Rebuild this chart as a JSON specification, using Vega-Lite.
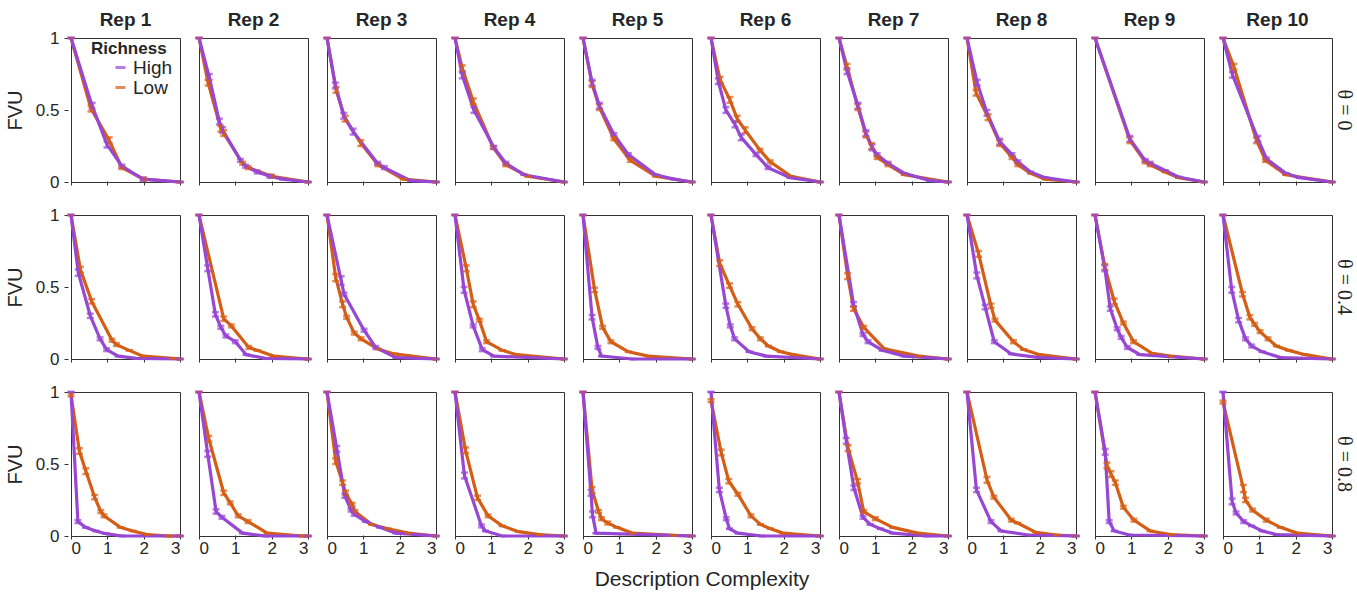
{
"$schema":"https://vega.github.io/schema/vega-lite/v6.json",
"padding":{"left":5,"top":11,"right":0,"bottom":0},
"data":{"values":[
{"t":"θ = 0","r":1,"s":"Low","x":0,"y":1,"e":0},{"t":"θ = 0","r":1,"s":"Low","x":0.55,"y":0.51,"e":0.02},{"t":"θ = 0","r":1,"s":"Low","x":1.05,"y":0.29,"e":0.02},{"t":"θ = 0","r":1,"s":"Low","x":1.4,"y":0.1,"e":0.01},{"t":"θ = 0","r":1,"s":"Low","x":2,"y":0.02,"e":0.01},{"t":"θ = 0","r":1,"s":"Low","x":3,"y":0,"e":0},
{"t":"θ = 0","r":1,"s":"High","x":0,"y":1,"e":0},{"t":"θ = 0","r":1,"s":"High","x":0.58,"y":0.53,"e":0.02},{"t":"θ = 0","r":1,"s":"High","x":0.99,"y":0.26,"e":0.02},{"t":"θ = 0","r":1,"s":"High","x":1.4,"y":0.11,"e":0.01},{"t":"θ = 0","r":1,"s":"High","x":1.98,"y":0.02,"e":0.01},{"t":"θ = 0","r":1,"s":"High","x":2.5,"y":0.01,"e":0},{"t":"θ = 0","r":1,"s":"High","x":3,"y":0,"e":0},
{"t":"θ = 0","r":2,"s":"Low","x":0,"y":1,"e":0},{"t":"θ = 0","r":2,"s":"Low","x":0.25,"y":0.69,"e":0.02},{"t":"θ = 0","r":2,"s":"Low","x":0.6,"y":0.37,"e":0.02},{"t":"θ = 0","r":2,"s":"Low","x":0.68,"y":0.34,"e":0.02},{"t":"θ = 0","r":2,"s":"Low","x":1.2,"y":0.13,"e":0.01},{"t":"θ = 0","r":2,"s":"Low","x":1.35,"y":0.1,"e":0.01},{"t":"θ = 0","r":2,"s":"Low","x":2,"y":0.04,"e":0.01},{"t":"θ = 0","r":2,"s":"Low","x":3,"y":0,"e":0},
{"t":"θ = 0","r":2,"s":"High","x":0,"y":1,"e":0},{"t":"θ = 0","r":2,"s":"High","x":0.28,"y":0.73,"e":0.02},{"t":"θ = 0","r":2,"s":"High","x":0.56,"y":0.42,"e":0.02},{"t":"θ = 0","r":2,"s":"High","x":0.65,"y":0.36,"e":0.02},{"t":"θ = 0","r":2,"s":"High","x":1.14,"y":0.15,"e":0.01},{"t":"θ = 0","r":2,"s":"High","x":1.28,"y":0.11,"e":0.01},{"t":"θ = 0","r":2,"s":"High","x":1.6,"y":0.07,"e":0.01},{"t":"θ = 0","r":2,"s":"High","x":1.95,"y":0.04,"e":0.01},{"t":"θ = 0","r":2,"s":"High","x":2.3,"y":0.02,"e":0},{"t":"θ = 0","r":2,"s":"High","x":3,"y":0,"e":0},
{"t":"θ = 0","r":3,"s":"Low","x":0,"y":1,"e":0},{"t":"θ = 0","r":3,"s":"Low","x":0.25,"y":0.64,"e":0.02},{"t":"θ = 0","r":3,"s":"Low","x":0.5,"y":0.44,"e":0.02},{"t":"θ = 0","r":3,"s":"Low","x":0.93,"y":0.27,"e":0.02},{"t":"θ = 0","r":3,"s":"Low","x":1.4,"y":0.12,"e":0.01},{"t":"θ = 0","r":3,"s":"Low","x":2.1,"y":0.02,"e":0},{"t":"θ = 0","r":3,"s":"Low","x":3,"y":0,"e":0},
{"t":"θ = 0","r":3,"s":"High","x":0,"y":1,"e":0},{"t":"θ = 0","r":3,"s":"High","x":0.23,"y":0.67,"e":0.02},{"t":"θ = 0","r":3,"s":"High","x":0.46,"y":0.46,"e":0.02},{"t":"θ = 0","r":3,"s":"High","x":0.72,"y":0.35,"e":0.02},{"t":"θ = 0","r":3,"s":"High","x":1.39,"y":0.13,"e":0.01},{"t":"θ = 0","r":3,"s":"High","x":1.58,"y":0.1,"e":0.01},{"t":"θ = 0","r":3,"s":"High","x":2.3,"y":0.01,"e":0},{"t":"θ = 0","r":3,"s":"High","x":3,"y":0,"e":0},
{"t":"θ = 0","r":4,"s":"Low","x":0,"y":1,"e":0},{"t":"θ = 0","r":4,"s":"Low","x":0.2,"y":0.79,"e":0.02},{"t":"θ = 0","r":4,"s":"Low","x":0.5,"y":0.56,"e":0.02},{"t":"θ = 0","r":4,"s":"Low","x":1.05,"y":0.24,"e":0.01},{"t":"θ = 0","r":4,"s":"Low","x":1.4,"y":0.12,"e":0.01},{"t":"θ = 0","r":4,"s":"Low","x":2,"y":0.04,"e":0},{"t":"θ = 0","r":4,"s":"Low","x":3,"y":0,"e":0},
{"t":"θ = 0","r":4,"s":"High","x":0,"y":1,"e":0},{"t":"θ = 0","r":4,"s":"High","x":0.2,"y":0.74,"e":0.02},{"t":"θ = 0","r":4,"s":"High","x":0.52,"y":0.5,"e":0.02},{"t":"θ = 0","r":4,"s":"High","x":1.07,"y":0.24,"e":0.01},{"t":"θ = 0","r":4,"s":"High","x":1.4,"y":0.13,"e":0.01},{"t":"θ = 0","r":4,"s":"High","x":1.9,"y":0.05,"e":0},{"t":"θ = 0","r":4,"s":"High","x":3,"y":0,"e":0},
{"t":"θ = 0","r":5,"s":"Low","x":0,"y":1,"e":0},{"t":"θ = 0","r":5,"s":"Low","x":0.25,"y":0.68,"e":0.02},{"t":"θ = 0","r":5,"s":"Low","x":0.45,"y":0.52,"e":0.02},{"t":"θ = 0","r":5,"s":"Low","x":0.85,"y":0.3,"e":0.01},{"t":"θ = 0","r":5,"s":"Low","x":1.3,"y":0.15,"e":0.01},{"t":"θ = 0","r":5,"s":"Low","x":2,"y":0.04,"e":0},{"t":"θ = 0","r":5,"s":"Low","x":3,"y":0,"e":0},
{"t":"θ = 0","r":5,"s":"High","x":0,"y":1,"e":0},{"t":"θ = 0","r":5,"s":"High","x":0.25,"y":0.69,"e":0.02},{"t":"θ = 0","r":5,"s":"High","x":0.45,"y":0.53,"e":0.02},{"t":"θ = 0","r":5,"s":"High","x":0.85,"y":0.33,"e":0.01},{"t":"θ = 0","r":5,"s":"High","x":1.25,"y":0.19,"e":0.01},{"t":"θ = 0","r":5,"s":"High","x":2,"y":0.05,"e":0},{"t":"θ = 0","r":5,"s":"High","x":2.5,"y":0.02,"e":0},{"t":"θ = 0","r":5,"s":"High","x":3,"y":0,"e":0},
{"t":"θ = 0","r":6,"s":"Low","x":0,"y":1,"e":0},{"t":"θ = 0","r":6,"s":"Low","x":0.25,"y":0.71,"e":0.02},{"t":"θ = 0","r":6,"s":"Low","x":0.52,"y":0.57,"e":0.02},{"t":"θ = 0","r":6,"s":"Low","x":0.72,"y":0.44,"e":0.02},{"t":"θ = 0","r":6,"s":"Low","x":0.94,"y":0.36,"e":0.02},{"t":"θ = 0","r":6,"s":"Low","x":1.35,"y":0.22,"e":0.01},{"t":"θ = 0","r":6,"s":"Low","x":1.63,"y":0.14,"e":0.01},{"t":"θ = 0","r":6,"s":"Low","x":2.2,"y":0.04,"e":0},{"t":"θ = 0","r":6,"s":"Low","x":3,"y":0,"e":0},
{"t":"θ = 0","r":6,"s":"High","x":0,"y":1,"e":0},{"t":"θ = 0","r":6,"s":"High","x":0.2,"y":0.7,"e":0.02},{"t":"θ = 0","r":6,"s":"High","x":0.41,"y":0.5,"e":0.02},{"t":"θ = 0","r":6,"s":"High","x":0.66,"y":0.4,"e":0.02},{"t":"θ = 0","r":6,"s":"High","x":0.83,"y":0.31,"e":0.02},{"t":"θ = 0","r":6,"s":"High","x":1.24,"y":0.19,"e":0.01},{"t":"θ = 0","r":6,"s":"High","x":1.57,"y":0.1,"e":0.01},{"t":"θ = 0","r":6,"s":"High","x":2.18,"y":0.03,"e":0},{"t":"θ = 0","r":6,"s":"High","x":3,"y":0,"e":0},
{"t":"θ = 0","r":7,"s":"Low","x":0,"y":1,"e":0},{"t":"θ = 0","r":7,"s":"Low","x":0.22,"y":0.8,"e":0.02},{"t":"θ = 0","r":7,"s":"Low","x":0.52,"y":0.52,"e":0.02},{"t":"θ = 0","r":7,"s":"Low","x":0.74,"y":0.33,"e":0.02},{"t":"θ = 0","r":7,"s":"Low","x":0.9,"y":0.25,"e":0.02},{"t":"θ = 0","r":7,"s":"Low","x":1.05,"y":0.17,"e":0.01},{"t":"θ = 0","r":7,"s":"Low","x":1.35,"y":0.12,"e":0.01},{"t":"θ = 0","r":7,"s":"Low","x":1.8,"y":0.05,"e":0},{"t":"θ = 0","r":7,"s":"Low","x":3,"y":0,"e":0},
{"t":"θ = 0","r":7,"s":"High","x":0,"y":1,"e":0},{"t":"θ = 0","r":7,"s":"High","x":0.22,"y":0.77,"e":0.02},{"t":"θ = 0","r":7,"s":"High","x":0.52,"y":0.53,"e":0.02},{"t":"θ = 0","r":7,"s":"High","x":0.74,"y":0.34,"e":0.02},{"t":"θ = 0","r":7,"s":"High","x":0.91,"y":0.24,"e":0.02},{"t":"θ = 0","r":7,"s":"High","x":1.05,"y":0.19,"e":0.01},{"t":"θ = 0","r":7,"s":"High","x":1.35,"y":0.13,"e":0.01},{"t":"θ = 0","r":7,"s":"High","x":1.8,"y":0.06,"e":0},{"t":"θ = 0","r":7,"s":"High","x":2.5,"y":0.01,"e":0},{"t":"θ = 0","r":7,"s":"High","x":3,"y":0,"e":0},
{"t":"θ = 0","r":8,"s":"Low","x":0,"y":1,"e":0},{"t":"θ = 0","r":8,"s":"Low","x":0.25,"y":0.62,"e":0.02},{"t":"θ = 0","r":8,"s":"Low","x":0.58,"y":0.45,"e":0.02},{"t":"θ = 0","r":8,"s":"Low","x":0.9,"y":0.27,"e":0.02},{"t":"θ = 0","r":8,"s":"Low","x":1.24,"y":0.17,"e":0.01},{"t":"θ = 0","r":8,"s":"Low","x":1.4,"y":0.12,"e":0.01},{"t":"θ = 0","r":8,"s":"Low","x":1.75,"y":0.06,"e":0},{"t":"θ = 0","r":8,"s":"Low","x":2.15,"y":0.02,"e":0},{"t":"θ = 0","r":8,"s":"Low","x":3,"y":0,"e":0},
{"t":"θ = 0","r":8,"s":"High","x":0,"y":1,"e":0},{"t":"θ = 0","r":8,"s":"High","x":0.28,"y":0.69,"e":0.02},{"t":"θ = 0","r":8,"s":"High","x":0.55,"y":0.48,"e":0.02},{"t":"θ = 0","r":8,"s":"High","x":0.9,"y":0.28,"e":0.02},{"t":"θ = 0","r":8,"s":"High","x":1.24,"y":0.19,"e":0.01},{"t":"θ = 0","r":8,"s":"High","x":1.4,"y":0.14,"e":0.01},{"t":"θ = 0","r":8,"s":"High","x":1.75,"y":0.07,"e":0},{"t":"θ = 0","r":8,"s":"High","x":2.15,"y":0.03,"e":0},{"t":"θ = 0","r":8,"s":"High","x":3,"y":0,"e":0},
{"t":"θ = 0","r":9,"s":"Low","x":0,"y":1,"e":0},{"t":"θ = 0","r":9,"s":"Low","x":0.96,"y":0.29,"e":0.02},{"t":"θ = 0","r":9,"s":"Low","x":1.38,"y":0.14,"e":0.01},{"t":"θ = 0","r":9,"s":"Low","x":1.52,"y":0.12,"e":0.01},{"t":"θ = 0","r":9,"s":"Low","x":1.93,"y":0.07,"e":0},{"t":"θ = 0","r":9,"s":"Low","x":2.3,"y":0.03,"e":0},{"t":"θ = 0","r":9,"s":"Low","x":3,"y":0,"e":0},
{"t":"θ = 0","r":9,"s":"High","x":0,"y":1,"e":0},{"t":"θ = 0","r":9,"s":"High","x":0.96,"y":0.3,"e":0.02},{"t":"θ = 0","r":9,"s":"High","x":1.38,"y":0.15,"e":0.01},{"t":"θ = 0","r":9,"s":"High","x":1.52,"y":0.13,"e":0.01},{"t":"θ = 0","r":9,"s":"High","x":1.93,"y":0.08,"e":0},{"t":"θ = 0","r":9,"s":"High","x":2.3,"y":0.035,"e":0},{"t":"θ = 0","r":9,"s":"High","x":3,"y":0,"e":0},
{"t":"θ = 0","r":10,"s":"Low","x":0,"y":1,"e":0},{"t":"θ = 0","r":10,"s":"Low","x":0.3,"y":0.8,"e":0.02},{"t":"θ = 0","r":10,"s":"Low","x":0.92,"y":0.29,"e":0.02},{"t":"θ = 0","r":10,"s":"Low","x":1.17,"y":0.15,"e":0.01},{"t":"θ = 0","r":10,"s":"Low","x":1.73,"y":0.05,"e":0},{"t":"θ = 0","r":10,"s":"Low","x":3,"y":0,"e":0},
{"t":"θ = 0","r":10,"s":"High","x":0,"y":1,"e":0},{"t":"θ = 0","r":10,"s":"High","x":0.26,"y":0.745,"e":0.02},{"t":"θ = 0","r":10,"s":"High","x":0.96,"y":0.3,"e":0.02},{"t":"θ = 0","r":10,"s":"High","x":1.2,"y":0.16,"e":0.01},{"t":"θ = 0","r":10,"s":"High","x":1.73,"y":0.06,"e":0},{"t":"θ = 0","r":10,"s":"High","x":2.1,"y":0.03,"e":0},{"t":"θ = 0","r":10,"s":"High","x":3,"y":0,"e":0},

{"t":"θ = 0.4","r":1,"s":"Low","x":0,"y":1,"e":0},{"t":"θ = 0.4","r":1,"s":"Low","x":0.26,"y":0.62,"e":0.02},{"t":"θ = 0.4","r":1,"s":"Low","x":0.57,"y":0.4,"e":0.015},{"t":"θ = 0.4","r":1,"s":"Low","x":1.13,"y":0.13,"e":0.01},{"t":"θ = 0.4","r":1,"s":"Low","x":1.25,"y":0.1,"e":0.01},{"t":"θ = 0.4","r":1,"s":"Low","x":1.6,"y":0.06,"e":0},{"t":"θ = 0.4","r":1,"s":"Low","x":1.98,"y":0.02,"e":0},{"t":"θ = 0.4","r":1,"s":"Low","x":2.8,"y":0.005,"e":0},{"t":"θ = 0.4","r":1,"s":"Low","x":3,"y":0,"e":0},
{"t":"θ = 0.4","r":1,"s":"High","x":0,"y":1,"e":0},{"t":"θ = 0.4","r":1,"s":"High","x":0.2,"y":0.6,"e":0.022},{"t":"θ = 0.4","r":1,"s":"High","x":0.53,"y":0.3,"e":0.015},{"t":"θ = 0.4","r":1,"s":"High","x":0.8,"y":0.14,"e":0.01},{"t":"θ = 0.4","r":1,"s":"High","x":0.98,"y":0.065,"e":0.01},{"t":"θ = 0.4","r":1,"s":"High","x":1.3,"y":0.02,"e":0},{"t":"θ = 0.4","r":1,"s":"High","x":1.8,"y":0.005,"e":0},{"t":"θ = 0.4","r":1,"s":"High","x":3,"y":0,"e":0},
{"t":"θ = 0.4","r":2,"s":"Low","x":0,"y":1,"e":0},{"t":"θ = 0.4","r":2,"s":"Low","x":0.68,"y":0.28,"e":0.015},{"t":"θ = 0.4","r":2,"s":"Low","x":0.89,"y":0.23,"e":0.01},{"t":"θ = 0.4","r":2,"s":"Low","x":1.37,"y":0.08,"e":0.01},{"t":"θ = 0.4","r":2,"s":"Low","x":1.6,"y":0.06,"e":0},{"t":"θ = 0.4","r":2,"s":"Low","x":2.05,"y":0.02,"e":0},{"t":"θ = 0.4","r":2,"s":"Low","x":3,"y":0,"e":0},
{"t":"θ = 0.4","r":2,"s":"High","x":0,"y":1,"e":0},{"t":"θ = 0.4","r":2,"s":"High","x":0.24,"y":0.63,"e":0.02},{"t":"θ = 0.4","r":2,"s":"High","x":0.45,"y":0.31,"e":0.015},{"t":"θ = 0.4","r":2,"s":"High","x":0.6,"y":0.22,"e":0.01},{"t":"θ = 0.4","r":2,"s":"High","x":0.74,"y":0.16,"e":0.01},{"t":"θ = 0.4","r":2,"s":"High","x":1,"y":0.12,"e":0.01},{"t":"θ = 0.4","r":2,"s":"High","x":1.3,"y":0.03,"e":0},{"t":"θ = 0.4","r":2,"s":"High","x":1.83,"y":0.005,"e":0},{"t":"θ = 0.4","r":2,"s":"High","x":3,"y":0,"e":0},
{"t":"θ = 0.4","r":3,"s":"Low","x":0,"y":1,"e":0},{"t":"θ = 0.4","r":3,"s":"Low","x":0.24,"y":0.565,"e":0.025},{"t":"θ = 0.4","r":3,"s":"Low","x":0.43,"y":0.38,"e":0.02},{"t":"θ = 0.4","r":3,"s":"Low","x":0.54,"y":0.29,"e":0.01},{"t":"θ = 0.4","r":3,"s":"Low","x":0.75,"y":0.18,"e":0.01},{"t":"θ = 0.4","r":3,"s":"Low","x":0.94,"y":0.14,"e":0.01},{"t":"θ = 0.4","r":3,"s":"Low","x":1.4,"y":0.07,"e":0},{"t":"θ = 0.4","r":3,"s":"Low","x":1.85,"y":0.035,"e":0},{"t":"θ = 0.4","r":3,"s":"Low","x":3,"y":0,"e":0},
{"t":"θ = 0.4","r":3,"s":"High","x":0,"y":1,"e":0},{"t":"θ = 0.4","r":3,"s":"High","x":0.39,"y":0.545,"e":0.03},{"t":"θ = 0.4","r":3,"s":"High","x":0.47,"y":0.45,"e":0.01},{"t":"θ = 0.4","r":3,"s":"High","x":1.02,"y":0.2,"e":0.01},{"t":"θ = 0.4","r":3,"s":"High","x":1.34,"y":0.08,"e":0.01},{"t":"θ = 0.4","r":3,"s":"High","x":1.9,"y":0.01,"e":0},{"t":"θ = 0.4","r":3,"s":"High","x":3,"y":0,"e":0},
{"t":"θ = 0.4","r":4,"s":"Low","x":0,"y":1,"e":0},{"t":"θ = 0.4","r":4,"s":"Low","x":0.31,"y":0.63,"e":0.02},{"t":"θ = 0.4","r":4,"s":"Low","x":0.5,"y":0.38,"e":0.02},{"t":"θ = 0.4","r":4,"s":"Low","x":0.67,"y":0.27,"e":0.01},{"t":"θ = 0.4","r":4,"s":"Low","x":0.87,"y":0.12,"e":0.01},{"t":"θ = 0.4","r":4,"s":"Low","x":1.3,"y":0.06,"e":0},{"t":"θ = 0.4","r":4,"s":"Low","x":1.7,"y":0.03,"e":0},{"t":"θ = 0.4","r":4,"s":"Low","x":3,"y":0,"e":0},
{"t":"θ = 0.4","r":4,"s":"High","x":0,"y":1,"e":0},{"t":"θ = 0.4","r":4,"s":"High","x":0.25,"y":0.48,"e":0.02},{"t":"θ = 0.4","r":4,"s":"High","x":0.5,"y":0.23,"e":0.01},{"t":"θ = 0.4","r":4,"s":"High","x":0.75,"y":0.065,"e":0.01},{"t":"θ = 0.4","r":4,"s":"High","x":1.07,"y":0.02,"e":0},{"t":"θ = 0.4","r":4,"s":"High","x":3,"y":0,"e":0},
{"t":"θ = 0.4","r":5,"s":"Low","x":0,"y":1,"e":0},{"t":"θ = 0.4","r":5,"s":"Low","x":0.32,"y":0.48,"e":0.015},{"t":"θ = 0.4","r":5,"s":"Low","x":0.54,"y":0.22,"e":0.01},{"t":"θ = 0.4","r":5,"s":"Low","x":0.77,"y":0.12,"e":0.01},{"t":"θ = 0.4","r":5,"s":"Low","x":1.25,"y":0.05,"e":0},{"t":"θ = 0.4","r":5,"s":"Low","x":1.8,"y":0.02,"e":0},{"t":"θ = 0.4","r":5,"s":"Low","x":3,"y":0,"e":0},
{"t":"θ = 0.4","r":5,"s":"High","x":0,"y":1,"e":0},{"t":"θ = 0.4","r":5,"s":"High","x":0.25,"y":0.29,"e":0.015},{"t":"θ = 0.4","r":5,"s":"High","x":0.41,"y":0.08,"e":0.01},{"t":"θ = 0.4","r":5,"s":"High","x":0.51,"y":0.02,"e":0},{"t":"θ = 0.4","r":5,"s":"High","x":1.36,"y":0,"e":0},{"t":"θ = 0.4","r":5,"s":"High","x":3,"y":0,"e":0},
{"t":"θ = 0.4","r":6,"s":"Low","x":0,"y":1,"e":0},{"t":"θ = 0.4","r":6,"s":"Low","x":0.24,"y":0.665,"e":0.02},{"t":"θ = 0.4","r":6,"s":"Low","x":0.51,"y":0.51,"e":0.015},{"t":"θ = 0.4","r":6,"s":"Low","x":0.74,"y":0.38,"e":0.015},{"t":"θ = 0.4","r":6,"s":"Low","x":1.13,"y":0.21,"e":0.01},{"t":"θ = 0.4","r":6,"s":"Low","x":1.36,"y":0.14,"e":0.01},{"t":"θ = 0.4","r":6,"s":"Low","x":1.58,"y":0.09,"e":0},{"t":"θ = 0.4","r":6,"s":"Low","x":1.92,"y":0.05,"e":0},{"t":"θ = 0.4","r":6,"s":"Low","x":2.26,"y":0.03,"e":0},{"t":"θ = 0.4","r":6,"s":"Low","x":3,"y":0,"e":0},
{"t":"θ = 0.4","r":6,"s":"High","x":0,"y":1,"e":0},{"t":"θ = 0.4","r":6,"s":"High","x":0.41,"y":0.37,"e":0.015},{"t":"θ = 0.4","r":6,"s":"High","x":0.53,"y":0.23,"e":0.01},{"t":"θ = 0.4","r":6,"s":"High","x":0.65,"y":0.14,"e":0.01},{"t":"θ = 0.4","r":6,"s":"High","x":1.05,"y":0.05,"e":0},{"t":"θ = 0.4","r":6,"s":"High","x":1.53,"y":0.02,"e":0},{"t":"θ = 0.4","r":6,"s":"High","x":3,"y":0,"e":0},
{"t":"θ = 0.4","r":7,"s":"Low","x":0,"y":1,"e":0},{"t":"θ = 0.4","r":7,"s":"Low","x":0.24,"y":0.575,"e":0.02},{"t":"θ = 0.4","r":7,"s":"Low","x":0.4,"y":0.35,"e":0.015},{"t":"θ = 0.4","r":7,"s":"Low","x":0.68,"y":0.22,"e":0.01},{"t":"θ = 0.4","r":7,"s":"Low","x":1.25,"y":0.07,"e":0},{"t":"θ = 0.4","r":7,"s":"Low","x":2.2,"y":0.02,"e":0},{"t":"θ = 0.4","r":7,"s":"Low","x":3,"y":0,"e":0},
{"t":"θ = 0.4","r":7,"s":"High","x":0,"y":1,"e":0},{"t":"θ = 0.4","r":7,"s":"High","x":0.4,"y":0.38,"e":0.015},{"t":"θ = 0.4","r":7,"s":"High","x":0.66,"y":0.17,"e":0.01},{"t":"θ = 0.4","r":7,"s":"High","x":0.8,"y":0.12,"e":0.01},{"t":"θ = 0.4","r":7,"s":"High","x":1.19,"y":0.06,"e":0},{"t":"θ = 0.4","r":7,"s":"High","x":1.8,"y":0.02,"e":0},{"t":"θ = 0.4","r":7,"s":"High","x":3,"y":0,"e":0},
{"t":"θ = 0.4","r":8,"s":"Low","x":0,"y":1,"e":0},{"t":"θ = 0.4","r":8,"s":"Low","x":0.32,"y":0.73,"e":0.02},{"t":"θ = 0.4","r":8,"s":"Low","x":0.66,"y":0.37,"e":0.015},{"t":"θ = 0.4","r":8,"s":"Low","x":0.77,"y":0.27,"e":0.01},{"t":"θ = 0.4","r":8,"s":"Low","x":1.28,"y":0.12,"e":0.01},{"t":"θ = 0.4","r":8,"s":"Low","x":1.56,"y":0.065,"e":0},{"t":"θ = 0.4","r":8,"s":"Low","x":2,"y":0.03,"e":0},{"t":"θ = 0.4","r":8,"s":"Low","x":3,"y":0,"e":0},
{"t":"θ = 0.4","r":8,"s":"High","x":0,"y":1,"e":0},{"t":"θ = 0.4","r":8,"s":"High","x":0.27,"y":0.58,"e":0.02},{"t":"θ = 0.4","r":8,"s":"High","x":0.5,"y":0.36,"e":0.015},{"t":"θ = 0.4","r":8,"s":"High","x":0.75,"y":0.12,"e":0.01},{"t":"θ = 0.4","r":8,"s":"High","x":1.22,"y":0.035,"e":0},{"t":"θ = 0.4","r":8,"s":"High","x":2,"y":0.01,"e":0},{"t":"θ = 0.4","r":8,"s":"High","x":3,"y":0,"e":0},
{"t":"θ = 0.4","r":9,"s":"Low","x":0,"y":1,"e":0},{"t":"θ = 0.4","r":9,"s":"Low","x":0.27,"y":0.64,"e":0.02},{"t":"θ = 0.4","r":9,"s":"Low","x":0.53,"y":0.4,"e":0.02},{"t":"θ = 0.4","r":9,"s":"Low","x":0.78,"y":0.25,"e":0.01},{"t":"θ = 0.4","r":9,"s":"Low","x":1.06,"y":0.12,"e":0.01},{"t":"θ = 0.4","r":9,"s":"Low","x":1.57,"y":0.04,"e":0},{"t":"θ = 0.4","r":9,"s":"Low","x":2.08,"y":0.02,"e":0},{"t":"θ = 0.4","r":9,"s":"Low","x":3,"y":0,"e":0},
{"t":"θ = 0.4","r":9,"s":"High","x":0,"y":1,"e":0},{"t":"θ = 0.4","r":9,"s":"High","x":0.27,"y":0.63,"e":0.02},{"t":"θ = 0.4","r":9,"s":"High","x":0.42,"y":0.35,"e":0.015},{"t":"θ = 0.4","r":9,"s":"High","x":0.61,"y":0.21,"e":0.01},{"t":"θ = 0.4","r":9,"s":"High","x":0.72,"y":0.15,"e":0.01},{"t":"θ = 0.4","r":9,"s":"High","x":0.89,"y":0.08,"e":0.01},{"t":"θ = 0.4","r":9,"s":"High","x":1.24,"y":0.03,"e":0},{"t":"θ = 0.4","r":9,"s":"High","x":3,"y":0,"e":0},
{"t":"θ = 0.4","r":10,"s":"Low","x":0,"y":1,"e":0},{"t":"θ = 0.4","r":10,"s":"Low","x":0.54,"y":0.45,"e":0.015},{"t":"θ = 0.4","r":10,"s":"Low","x":0.74,"y":0.29,"e":0.015},{"t":"θ = 0.4","r":10,"s":"Low","x":0.87,"y":0.24,"e":0.01},{"t":"θ = 0.4","r":10,"s":"Low","x":1.02,"y":0.19,"e":0.01},{"t":"θ = 0.4","r":10,"s":"Low","x":1.24,"y":0.14,"e":0.01},{"t":"θ = 0.4","r":10,"s":"Low","x":1.47,"y":0.09,"e":0},{"t":"θ = 0.4","r":10,"s":"Low","x":1.81,"y":0.06,"e":0},{"t":"θ = 0.4","r":10,"s":"Low","x":2.26,"y":0.03,"e":0},{"t":"θ = 0.4","r":10,"s":"Low","x":3,"y":0,"e":0},
{"t":"θ = 0.4","r":10,"s":"High","x":0,"y":1,"e":0},{"t":"θ = 0.4","r":10,"s":"High","x":0.24,"y":0.48,"e":0.02},{"t":"θ = 0.4","r":10,"s":"High","x":0.43,"y":0.27,"e":0.015},{"t":"θ = 0.4","r":10,"s":"High","x":0.62,"y":0.14,"e":0.01},{"t":"θ = 0.4","r":10,"s":"High","x":0.79,"y":0.09,"e":0.01},{"t":"θ = 0.4","r":10,"s":"High","x":1.08,"y":0.05,"e":0},{"t":"θ = 0.4","r":10,"s":"High","x":1.59,"y":0.01,"e":0},{"t":"θ = 0.4","r":10,"s":"High","x":3,"y":0,"e":0},

{"t":"θ = 0.8","r":1,"s":"Low","x":0,"y":0.98,"e":0.01},{"t":"θ = 0.8","r":1,"s":"Low","x":0.23,"y":0.59,"e":0.02},{"t":"θ = 0.8","r":1,"s":"Low","x":0.41,"y":0.45,"e":0.02},{"t":"θ = 0.8","r":1,"s":"Low","x":0.65,"y":0.27,"e":0.015},{"t":"θ = 0.8","r":1,"s":"Low","x":0.82,"y":0.17,"e":0.01},{"t":"θ = 0.8","r":1,"s":"Low","x":0.91,"y":0.14,"e":0.01},{"t":"θ = 0.8","r":1,"s":"Low","x":1.36,"y":0.06,"e":0},{"t":"θ = 0.8","r":1,"s":"Low","x":1.7,"y":0.035,"e":0},{"t":"θ = 0.8","r":1,"s":"Low","x":2.1,"y":0.01,"e":0},{"t":"θ = 0.8","r":1,"s":"Low","x":2.7,"y":0,"e":0},{"t":"θ = 0.8","r":1,"s":"Low","x":3,"y":0,"e":0},
{"t":"θ = 0.8","r":1,"s":"High","x":0,"y":1,"e":0},{"t":"θ = 0.8","r":1,"s":"High","x":0.19,"y":0.1,"e":0.01},{"t":"θ = 0.8","r":1,"s":"High","x":0.4,"y":0.06,"e":0},{"t":"θ = 0.8","r":1,"s":"High","x":0.68,"y":0.035,"e":0},{"t":"θ = 0.8","r":1,"s":"High","x":0.96,"y":0.016,"e":0},{"t":"θ = 0.8","r":1,"s":"High","x":1.4,"y":0,"e":0},{"t":"θ = 0.8","r":1,"s":"High","x":3,"y":0,"e":0},
{"t":"θ = 0.8","r":2,"s":"Low","x":0,"y":1,"e":0},{"t":"θ = 0.8","r":2,"s":"Low","x":0.27,"y":0.675,"e":0.02},{"t":"θ = 0.8","r":2,"s":"Low","x":0.68,"y":0.3,"e":0.015},{"t":"θ = 0.8","r":2,"s":"Low","x":0.86,"y":0.23,"e":0.01},{"t":"θ = 0.8","r":2,"s":"Low","x":1.08,"y":0.14,"e":0.01},{"t":"θ = 0.8","r":2,"s":"Low","x":1.35,"y":0.1,"e":0.01},{"t":"θ = 0.8","r":2,"s":"Low","x":1.88,"y":0.02,"e":0},{"t":"θ = 0.8","r":2,"s":"Low","x":2.85,"y":0,"e":0},{"t":"θ = 0.8","r":2,"s":"Low","x":3,"y":0,"e":0},
{"t":"θ = 0.8","r":2,"s":"High","x":0,"y":1,"e":0},{"t":"θ = 0.8","r":2,"s":"High","x":0.24,"y":0.57,"e":0.02},{"t":"θ = 0.8","r":2,"s":"High","x":0.47,"y":0.17,"e":0.015},{"t":"θ = 0.8","r":2,"s":"High","x":0.63,"y":0.13,"e":0.01},{"t":"θ = 0.8","r":2,"s":"High","x":1.2,"y":0.02,"e":0},{"t":"θ = 0.8","r":2,"s":"High","x":1.83,"y":0,"e":0},{"t":"θ = 0.8","r":2,"s":"High","x":3,"y":0,"e":0},
{"t":"θ = 0.8","r":3,"s":"Low","x":0,"y":1,"e":0},{"t":"θ = 0.8","r":3,"s":"Low","x":0.24,"y":0.52,"e":0.02},{"t":"θ = 0.8","r":3,"s":"Low","x":0.43,"y":0.37,"e":0.015},{"t":"θ = 0.8","r":3,"s":"Low","x":0.51,"y":0.3,"e":0.015},{"t":"θ = 0.8","r":3,"s":"Low","x":0.69,"y":0.22,"e":0.01},{"t":"θ = 0.8","r":3,"s":"Low","x":0.77,"y":0.17,"e":0.01},{"t":"θ = 0.8","r":3,"s":"Low","x":1.23,"y":0.08,"e":0},{"t":"θ = 0.8","r":3,"s":"Low","x":1.68,"y":0.05,"e":0},{"t":"θ = 0.8","r":3,"s":"Low","x":2.24,"y":0.02,"e":0},{"t":"θ = 0.8","r":3,"s":"Low","x":3,"y":0,"e":0},
{"t":"θ = 0.8","r":3,"s":"High","x":0,"y":1,"e":0},{"t":"θ = 0.8","r":3,"s":"High","x":0.27,"y":0.605,"e":0.02},{"t":"θ = 0.8","r":3,"s":"High","x":0.49,"y":0.28,"e":0.015},{"t":"θ = 0.8","r":3,"s":"High","x":0.66,"y":0.18,"e":0.01},{"t":"θ = 0.8","r":3,"s":"High","x":0.75,"y":0.15,"e":0.01},{"t":"θ = 0.8","r":3,"s":"High","x":1.06,"y":0.1,"e":0},{"t":"θ = 0.8","r":3,"s":"High","x":1.45,"y":0.06,"e":0},{"t":"θ = 0.8","r":3,"s":"High","x":1.9,"y":0.02,"e":0},{"t":"θ = 0.8","r":3,"s":"High","x":3,"y":0,"e":0},
{"t":"θ = 0.8","r":4,"s":"Low","x":0,"y":1,"e":0},{"t":"θ = 0.8","r":4,"s":"Low","x":0.29,"y":0.595,"e":0.02},{"t":"θ = 0.8","r":4,"s":"Low","x":0.62,"y":0.265,"e":0.015},{"t":"θ = 0.8","r":4,"s":"Low","x":0.91,"y":0.14,"e":0.01},{"t":"θ = 0.8","r":4,"s":"Low","x":1.3,"y":0.07,"e":0},{"t":"θ = 0.8","r":4,"s":"Low","x":1.75,"y":0.03,"e":0},{"t":"θ = 0.8","r":4,"s":"Low","x":2.32,"y":0.01,"e":0},{"t":"θ = 0.8","r":4,"s":"Low","x":3,"y":0,"e":0},
{"t":"θ = 0.8","r":4,"s":"High","x":0,"y":1,"e":0},{"t":"θ = 0.8","r":4,"s":"High","x":0.26,"y":0.42,"e":0.02},{"t":"θ = 0.8","r":4,"s":"High","x":0.73,"y":0.07,"e":0.01},{"t":"θ = 0.8","r":4,"s":"High","x":0.84,"y":0.035,"e":0},{"t":"θ = 0.8","r":4,"s":"High","x":1.3,"y":0,"e":0},{"t":"θ = 0.8","r":4,"s":"High","x":3,"y":0,"e":0},
{"t":"θ = 0.8","r":5,"s":"Low","x":0,"y":1,"e":0},{"t":"θ = 0.8","r":5,"s":"Low","x":0.25,"y":0.32,"e":0.02},{"t":"θ = 0.8","r":5,"s":"Low","x":0.43,"y":0.17,"e":0.01},{"t":"θ = 0.8","r":5,"s":"Low","x":0.51,"y":0.12,"e":0.01},{"t":"θ = 0.8","r":5,"s":"Low","x":0.68,"y":0.09,"e":0.01},{"t":"θ = 0.8","r":5,"s":"Low","x":0.93,"y":0.06,"e":0},{"t":"θ = 0.8","r":5,"s":"Low","x":1.36,"y":0.02,"e":0},{"t":"θ = 0.8","r":5,"s":"Low","x":2.5,"y":0.005,"e":0},{"t":"θ = 0.8","r":5,"s":"Low","x":3,"y":0,"e":0},
{"t":"θ = 0.8","r":5,"s":"High","x":0,"y":1,"e":0},{"t":"θ = 0.8","r":5,"s":"High","x":0.22,"y":0.3,"e":0.02},{"t":"θ = 0.8","r":5,"s":"High","x":0.26,"y":0.15,"e":0.02},{"t":"θ = 0.8","r":5,"s":"High","x":0.36,"y":0.02,"e":0},{"t":"θ = 0.8","r":5,"s":"High","x":3,"y":0,"e":0},
{"t":"θ = 0.8","r":6,"s":"Low","x":0,"y":0.94,"e":0.01},{"t":"θ = 0.8","r":6,"s":"Low","x":0.28,"y":0.58,"e":0.02},{"t":"θ = 0.8","r":6,"s":"Low","x":0.49,"y":0.38,"e":0.015},{"t":"θ = 0.8","r":6,"s":"Low","x":0.74,"y":0.29,"e":0.01},{"t":"θ = 0.8","r":6,"s":"Low","x":1.1,"y":0.14,"e":0.01},{"t":"θ = 0.8","r":6,"s":"Low","x":1.36,"y":0.08,"e":0},{"t":"θ = 0.8","r":6,"s":"Low","x":1.64,"y":0.05,"e":0},{"t":"θ = 0.8","r":6,"s":"Low","x":1.98,"y":0.02,"e":0},{"t":"θ = 0.8","r":6,"s":"Low","x":3,"y":0,"e":0},
{"t":"θ = 0.8","r":6,"s":"High","x":0,"y":1,"e":0},{"t":"θ = 0.8","r":6,"s":"High","x":0.23,"y":0.32,"e":0.015},{"t":"θ = 0.8","r":6,"s":"High","x":0.42,"y":0.12,"e":0.01},{"t":"θ = 0.8","r":6,"s":"High","x":0.51,"y":0.05,"e":0},{"t":"θ = 0.8","r":6,"s":"High","x":0.74,"y":0.02,"e":0},{"t":"θ = 0.8","r":6,"s":"High","x":1.4,"y":0,"e":0},{"t":"θ = 0.8","r":6,"s":"High","x":3,"y":0,"e":0},
{"t":"θ = 0.8","r":7,"s":"Low","x":0,"y":1,"e":0},{"t":"θ = 0.8","r":7,"s":"Low","x":0.25,"y":0.61,"e":0.02},{"t":"θ = 0.8","r":7,"s":"Low","x":0.51,"y":0.38,"e":0.015},{"t":"θ = 0.8","r":7,"s":"Low","x":0.68,"y":0.17,"e":0.01},{"t":"θ = 0.8","r":7,"s":"Low","x":1,"y":0.12,"e":0.01},{"t":"θ = 0.8","r":7,"s":"Low","x":1.48,"y":0.06,"e":0},{"t":"θ = 0.8","r":7,"s":"Low","x":2.17,"y":0.02,"e":0},{"t":"θ = 0.8","r":7,"s":"Low","x":3,"y":0,"e":0},
{"t":"θ = 0.8","r":7,"s":"High","x":0,"y":1,"e":0},{"t":"θ = 0.8","r":7,"s":"High","x":0.2,"y":0.66,"e":0.02},{"t":"θ = 0.8","r":7,"s":"High","x":0.41,"y":0.335,"e":0.015},{"t":"θ = 0.8","r":7,"s":"High","x":0.66,"y":0.13,"e":0.01},{"t":"θ = 0.8","r":7,"s":"High","x":0.86,"y":0.08,"e":0},{"t":"θ = 0.8","r":7,"s":"High","x":1.14,"y":0.05,"e":0},{"t":"θ = 0.8","r":7,"s":"High","x":1.48,"y":0.02,"e":0},{"t":"θ = 0.8","r":7,"s":"High","x":2.4,"y":0,"e":0},{"t":"θ = 0.8","r":7,"s":"High","x":3,"y":0,"e":0},
{"t":"θ = 0.8","r":8,"s":"Low","x":0,"y":1,"e":0},{"t":"θ = 0.8","r":8,"s":"Low","x":0.55,"y":0.39,"e":0.02},{"t":"θ = 0.8","r":8,"s":"Low","x":0.74,"y":0.27,"e":0.01},{"t":"θ = 0.8","r":8,"s":"Low","x":1.22,"y":0.11,"e":0.01},{"t":"θ = 0.8","r":8,"s":"Low","x":1.39,"y":0.09,"e":0},{"t":"θ = 0.8","r":8,"s":"Low","x":1.9,"y":0.025,"e":0},{"t":"θ = 0.8","r":8,"s":"Low","x":2.47,"y":0.007,"e":0},{"t":"θ = 0.8","r":8,"s":"Low","x":3,"y":0,"e":0},
{"t":"θ = 0.8","r":8,"s":"High","x":0,"y":1,"e":0},{"t":"θ = 0.8","r":8,"s":"High","x":0.26,"y":0.32,"e":0.015},{"t":"θ = 0.8","r":8,"s":"High","x":0.66,"y":0.1,"e":0.01},{"t":"θ = 0.8","r":8,"s":"High","x":0.94,"y":0.035,"e":0},{"t":"θ = 0.8","r":8,"s":"High","x":1.68,"y":0.007,"e":0},{"t":"θ = 0.8","r":8,"s":"High","x":3,"y":0,"e":0},
{"t":"θ = 0.8","r":9,"s":"Low","x":0,"y":1,"e":0},{"t":"θ = 0.8","r":9,"s":"Low","x":0.33,"y":0.49,"e":0.02},{"t":"θ = 0.8","r":9,"s":"Low","x":0.44,"y":0.43,"e":0.02},{"t":"θ = 0.8","r":9,"s":"Low","x":0.56,"y":0.37,"e":0.015},{"t":"θ = 0.8","r":9,"s":"Low","x":0.78,"y":0.2,"e":0.01},{"t":"θ = 0.8","r":9,"s":"Low","x":1.07,"y":0.11,"e":0.01},{"t":"θ = 0.8","r":9,"s":"Low","x":1.52,"y":0.035,"e":0},{"t":"θ = 0.8","r":9,"s":"Low","x":2.09,"y":0.01,"e":0},{"t":"θ = 0.8","r":9,"s":"Low","x":3,"y":0,"e":0},
{"t":"θ = 0.8","r":9,"s":"High","x":0,"y":1,"e":0},{"t":"θ = 0.8","r":9,"s":"High","x":0.28,"y":0.585,"e":0.02},{"t":"θ = 0.8","r":9,"s":"High","x":0.39,"y":0.1,"e":0.01},{"t":"θ = 0.8","r":9,"s":"High","x":0.53,"y":0.035,"e":0},{"t":"θ = 0.8","r":9,"s":"High","x":0.95,"y":0.007,"e":0},{"t":"θ = 0.8","r":9,"s":"High","x":3,"y":0,"e":0},
{"t":"θ = 0.8","r":10,"s":"Low","x":0,"y":0.93,"e":0.01},{"t":"θ = 0.8","r":10,"s":"Low","x":0.56,"y":0.33,"e":0.025},{"t":"θ = 0.8","r":10,"s":"Low","x":0.62,"y":0.25,"e":0.015},{"t":"θ = 0.8","r":10,"s":"Low","x":0.81,"y":0.18,"e":0.01},{"t":"θ = 0.8","r":10,"s":"Low","x":1.19,"y":0.11,"e":0.01},{"t":"θ = 0.8","r":10,"s":"Low","x":1.58,"y":0.06,"e":0},{"t":"θ = 0.8","r":10,"s":"Low","x":2.04,"y":0.02,"e":0},{"t":"θ = 0.8","r":10,"s":"Low","x":3,"y":0,"e":0},
{"t":"θ = 0.8","r":10,"s":"High","x":0,"y":1,"e":0},{"t":"θ = 0.8","r":10,"s":"High","x":0.25,"y":0.24,"e":0.02},{"t":"θ = 0.8","r":10,"s":"High","x":0.36,"y":0.16,"e":0.01},{"t":"θ = 0.8","r":10,"s":"High","x":0.57,"y":0.1,"e":0.01},{"t":"θ = 0.8","r":10,"s":"High","x":0.79,"y":0.07,"e":0},{"t":"θ = 0.8","r":10,"s":"High","x":1.08,"y":0.035,"e":0},{"t":"θ = 0.8","r":10,"s":"High","x":1.47,"y":0.01,"e":0},{"t":"θ = 0.8","r":10,"s":"High","x":3,"y":0,"e":0}
]},
"vconcat":[
{
 "transform":[{"filter":"datum.t == 'θ = 0'"}],
 "facet":{
  "row":{"field":"t","type":"nominal","header":{"title":null,"labelOrient":"right","labelAngle":90,"labelFont":"Liberation Serif","labelFontSize":20,"labelPadding":-5,"labelColor":"#262626"}},
  "column":{"field":"r","type":"ordinal","header":{"title":null,"labelExpr":"'Rep ' + datum.value","labelFontWeight":"bold","labelFontSize":19,"labelPadding":1,"labelColor":"#262626"}}
 },
 "spacing":{"column":5,"row":0},
 "spec":{
  "width":109,"height":144,
  "encoding":{
   "x":{"field":"x","type":"quantitative","scale":{"domain":[0,3],"nice":false},"axis":{"values":[0,1,2,3],"labels":false,"title":null}},
   "y":{"field":"y","type":"quantitative","scale":{"domain":[0,1],"nice":false},"axis":{"values":[0,0.5,1],"format":"~g","title":"FVU"}},
   "color":{"field":"s","type":"nominal","scale":{"domain":["High","Low"],"range":["#9747D4","#D55E16"]},"legend":{"title":"Richness"}}
  },
  "layer":[
   {"mark":{"type":"line","strokeWidth":3.2}},
   {"mark":{"type":"errorbar","thickness":2.5,"ticks":{"thickness":2.5,"size":7}},"encoding":{"yError":{"field":"e"}}}
  ]
 }
},
{
 "transform":[{"filter":"datum.t == 'θ = 0.4'"}],
 "facet":{
  "row":{"field":"t","type":"nominal","header":{"title":null,"labelOrient":"right","labelAngle":90,"labelFont":"Liberation Serif","labelFontSize":20,"labelPadding":-5,"labelColor":"#262626"}},
  "column":{"field":"r","type":"ordinal","header":{"title":null,"labels":false}}
 },
 "spacing":{"column":5,"row":0},
 "spec":{
  "width":109,"height":144,
  "encoding":{
   "x":{"field":"x","type":"quantitative","scale":{"domain":[0,3],"nice":false},"axis":{"values":[0,1,2,3],"labels":false,"title":null}},
   "y":{"field":"y","type":"quantitative","scale":{"domain":[0,1],"nice":false},"axis":{"values":[0,0.5,1],"format":"~g","title":"FVU"}},
   "color":{"field":"s","type":"nominal","scale":{"domain":["High","Low"],"range":["#9747D4","#D55E16"]},"legend":null}
  },
  "layer":[
   {"mark":{"type":"line","strokeWidth":3.2}},
   {"mark":{"type":"errorbar","thickness":2.5,"ticks":{"thickness":2.5,"size":7}},"encoding":{"yError":{"field":"e"}}}
  ]
 }
},
{
 "transform":[{"filter":"datum.t == 'θ = 0.8'"}],
 "facet":{
  "row":{"field":"t","type":"nominal","header":{"title":null,"labelOrient":"right","labelAngle":90,"labelFont":"Liberation Serif","labelFontSize":20,"labelPadding":-5,"labelColor":"#262626"}},
  "column":{"field":"r","type":"ordinal","title":"Description Complexity","header":{"labels":false,"titleOrient":"bottom","titleFontSize":21,"titleFontWeight":"normal","titleColor":"#262626","titlePadding":3}}
 },
 "spacing":{"column":5,"row":0},
 "spec":{
  "width":109,"height":144,
  "encoding":{
   "x":{"field":"x","type":"quantitative","scale":{"domain":[0,3],"nice":false},"axis":{"values":[0,1,2,3],"title":null}},
   "y":{"field":"y","type":"quantitative","scale":{"domain":[0,1],"nice":false},"axis":{"values":[0,0.5,1],"format":"~g","title":"FVU"}},
   "color":{"field":"s","type":"nominal","scale":{"domain":["High","Low"],"range":["#9747D4","#D55E16"]},"legend":null}
  },
  "layer":[
   {"mark":{"type":"line","strokeWidth":3.2}},
   {"mark":{"type":"errorbar","thickness":2.5,"ticks":{"thickness":2.5,"size":7}},"encoding":{"yError":{"field":"e"}}}
  ]
 }
}
],
"spacing":16,
"config":{
 "font":"Liberation Sans",
 "view":{"stroke":"#333333","strokeWidth":1},
 "axis":{"grid":false,"domain":false,"ticks":true,"tickSize":-4,"tickColor":"#333333","labelColor":"#262626","titleColor":"#262626","labelFontSize":17,"titleFontSize":20,"titleFontWeight":"normal","labelFont":"Liberation Sans","titleFont":"Liberation Sans"},
 "axisX":{"offset":-4,"labelPadding":5},
 "axisY":{"titlePadding":10,"labelPadding":9},
 "legend":{"orient":"none","legendX":20,"legendY":3,"titleFontSize":17,"titleFontWeight":"bold","titleColor":"#262626","labelFontSize":19,"labelColor":"#262626","symbolType":"stroke","symbolStrokeWidth":3,"symbolSize":100,"rowPadding":-7,"symbolOffset":20,"titlePadding":0,"labelOffset":3}
}
}
